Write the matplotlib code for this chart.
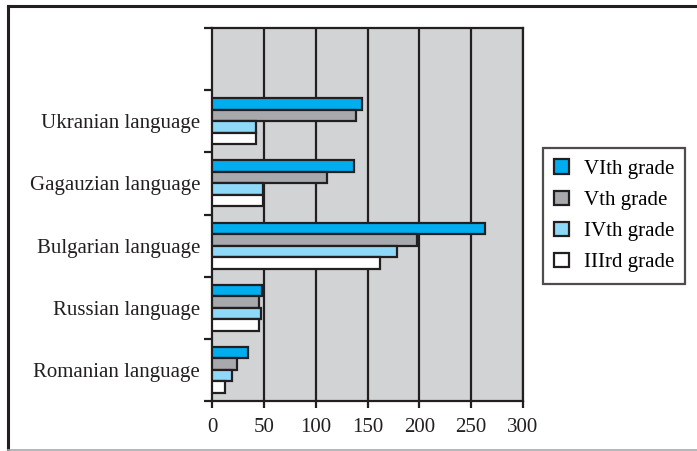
import matplotlib
matplotlib.use('Agg')
import matplotlib.pyplot as plt
import numpy as np
from matplotlib.lines import Line2D
from matplotlib.patches import Patch

languages = ["Romanian language", "Russian language", "Bulgarian language",
             "Gagauzian language", "Ukranian language"]
grades = ["VIth grade", "Vth grade", "IVth grade", "IIIrd grade"]
vi_grade = [35, 48, 263, 137, 145]
v_grade = [24, 45, 198, 111, 139]
iv_grade = [19, 47, 178, 49, 42]
iii_grade = [13, 45, 162, 49, 42]
x_ticks = [0, 50, 100, 150, 200, 250, 300]

colors = ["#00AEEF", "#A7A9AC", "#8ED8F8", "#FFFFFF"]

plt.rcParams['font.family'] = ['Liberation Serif', 'DejaVu Serif']

fig = plt.figure(figsize=(6.97, 4.51), dpi=100)
ax = fig.add_axes([212 / 697, 1 - 401 / 451, 311 / 697, 373 / 451])
ax.set_facecolor("#D1D3D4")

# outer frame of the figure
fig.add_artist(Line2D([8 / 697, 1], [1 - 6 / 451, 1 - 6 / 451], color="#231F20", lw=2.2,
                      transform=fig.transFigure))
fig.add_artist(Line2D([8 / 697, 8 / 697], [0.002, 1 - 6 / 451], color="#231F20", lw=2.2,
                      transform=fig.transFigure))
fig.add_artist(Line2D([8 / 697, 1], [0.002, 0.002], color="#A7A9AC", lw=1.2,
                      transform=fig.transFigure))

y = np.arange(len(languages)) + 0.5
h = 0.185
series = [vi_grade, v_grade, iv_grade, iii_grade]
for i, (vals, col, lab) in enumerate(zip(series, colors, grades)):
    offs = (1.5 - i) * h
    ax.barh(y + offs, vals, height=h, color=col, edgecolor="#231F20", linewidth=1.6,
            label=lab, zorder=3)

ax.set_xlim(0, 300)
ax.set_ylim(0, 6)
ax.set_xticks(x_ticks)
ax.set_xticklabels([str(t) for t in x_ticks], fontsize=15, color="#231F20")
ax.set_yticks(np.arange(7))
ax.set_yticklabels([])
ax.set_yticks(y, minor=True)
ax.set_yticklabels(languages, minor=True, fontsize=15, color="#231F20")
ax.tick_params(axis='y', which='minor', length=0, pad=8.5)
ax.tick_params(axis='y', which='major', length=6, width=1.6, color="#231F20")
ax.tick_params(axis='x', length=5, width=1.6, color="#231F20", pad=7)

for xv in x_ticks[1:]:
    ax.axvline(xv, color="#231F20", lw=1.6, zorder=2)
for s in ax.spines.values():
    s.set_color("#231F20")
    s.set_linewidth(1.6)

handles = [Patch(facecolor=c, edgecolor="#231F20", linewidth=1.6) for c in colors]
leg = ax.legend(handles, grades, loc='upper left', bbox_to_anchor=(543 / 697, 1 - 148 / 451),
                bbox_transform=fig.transFigure, fontsize=15, frameon=True, fancybox=False,
                handlelength=0.7, handleheight=0.7, labelspacing=0.55, handletextpad=0.7,
                borderpad=0.55, borderaxespad=0)
leg.get_frame().set_edgecolor("#231F20")
leg.get_frame().set_linewidth(1.6)

fig.savefig("out.png", dpi=100)
